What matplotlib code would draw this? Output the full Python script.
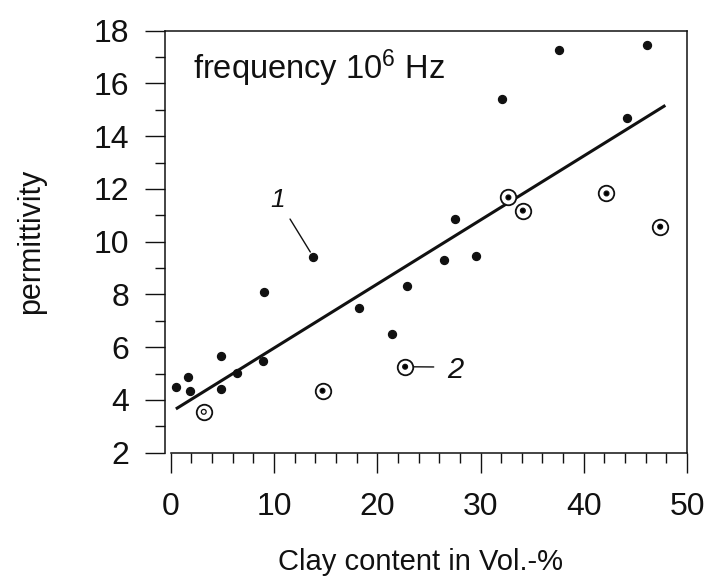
import matplotlib
matplotlib.use("Agg")
import matplotlib.pyplot as plt
from matplotlib.ticker import MultipleLocator

plt.rcParams['font.family'] = ['Liberation Sans', 'DejaVu Sans']
plt.rcParams['mathtext.fontset'] = 'custom'
plt.rcParams['mathtext.rm'] = 'Liberation Sans'
plt.rcParams['mathtext.it'] = 'Liberation Sans:italic'

# ---- data ----
# series 1: plain samples (filled dots)
clay_1 = [0.5, 1.7, 1.9, 4.9, 4.9, 6.4, 8.9, 9.0, 13.8, 18.2, 21.4, 22.9,
          26.5, 27.5, 29.6, 32.1, 37.6, 44.2, 46.1]
perm_1 = [4.49, 4.88, 4.35, 5.67, 4.43, 5.01, 5.49, 8.08, 9.43, 7.50, 6.49,
          8.32, 9.31, 10.86, 9.47, 15.41, 17.27, 14.68, 17.46]
# series 2: circled samples
clay_2 = [3.2, 14.7, 22.7, 32.7, 34.1, 42.2, 47.4]
perm_2 = [3.55, 4.35, 5.26, 11.68, 11.18, 11.83, 10.57]
inner_2 = ['white', 'black', 'black', 'black', 'black', 'black', 'black']
# regression line end points
fit_x = [0.5, 47.9]
fit_y = [3.66, 15.17]

x_ticks = [0, 10, 20, 30, 40, 50]
y_ticks = [2, 4, 6, 8, 10, 12, 14, 16, 18]

# ---- figure ----
fig = plt.figure(figsize=(7.08, 5.81), dpi=100)
ax = fig.add_axes([0.2331, 0.2208, 0.7373, 0.7263])

ink = '#111111'
ax.plot(fit_x, fit_y, color=ink, lw=2.2, solid_capstyle='butt', zorder=2)
ax.plot(clay_1, perm_1, 'o', ms=5.7, color=ink, zorder=3)
ax.scatter(clay_2, perm_2, s=125, facecolors='white', edgecolors=ink,
           linewidths=1.3, zorder=3)
ax.scatter(clay_2, perm_2, s=12, facecolors=inner_2, edgecolors=ink,
           linewidths=0.9, zorder=4)

ax.set_xlim(-0.55, 50)
ax.set_ylim(2, 18)
ax.set_xticks(x_ticks)
ax.set_yticks(y_ticks)
ax.xaxis.set_minor_locator(MultipleLocator(2))
ax.yaxis.set_minor_locator(MultipleLocator(1))

for s in ax.spines.values():
    s.set_linewidth(1.1)
    s.set_color(ink)
ax.spines['bottom'].set_bounds(0, 50)

ax.tick_params(axis='both', which='major', direction='out', length=14.5,
               width=1.0, labelsize=23, colors=ink)
ax.tick_params(axis='both', which='minor', direction='out', length=7,
               width=1.0, colors=ink)
ax.tick_params(axis='y', which='major', pad=11.5)
ax.tick_params(axis='x', which='major', pad=14)
ax.tick_params(top=False, right=False, which='both')

ax.set_xlabel('Clay content in Vol.-%', fontsize=21, color=ink, va='top')
ax.xaxis.set_label_coords(0.4885, -0.2258)
ax.set_ylabel('permittivity', fontsize=22, color=ink, va='center')
ax.yaxis.set_label_coords(-0.2567, 0.5)

ax.text(0.054, 0.885, 'frequency 10$^{6}$ Hz', transform=ax.transAxes,
        fontsize=23.5, color=ink, ha='left', va='baseline')

ax.annotate('1', xy=(clay_1[8], perm_1[8]), xytext=(10.4, 11.6),
            fontsize=19, style='italic', color=ink, ha='center', va='center',
            arrowprops=dict(arrowstyle='-', color=ink, lw=1.0,
                            relpos=(1.0, 0.0), shrinkA=4, shrinkB=4))
ax.annotate('2', xy=(clay_2[2], perm_2[2]), xytext=(27.6, 5.12),
            fontsize=21, style='italic', color=ink, ha='center', va='center',
            arrowprops=dict(arrowstyle='-', color=ink, lw=1.0,
                            relpos=(0.0, 0.62), shrinkA=8, shrinkB=6))

fig.savefig('out.png', dpi=100, facecolor='white')
